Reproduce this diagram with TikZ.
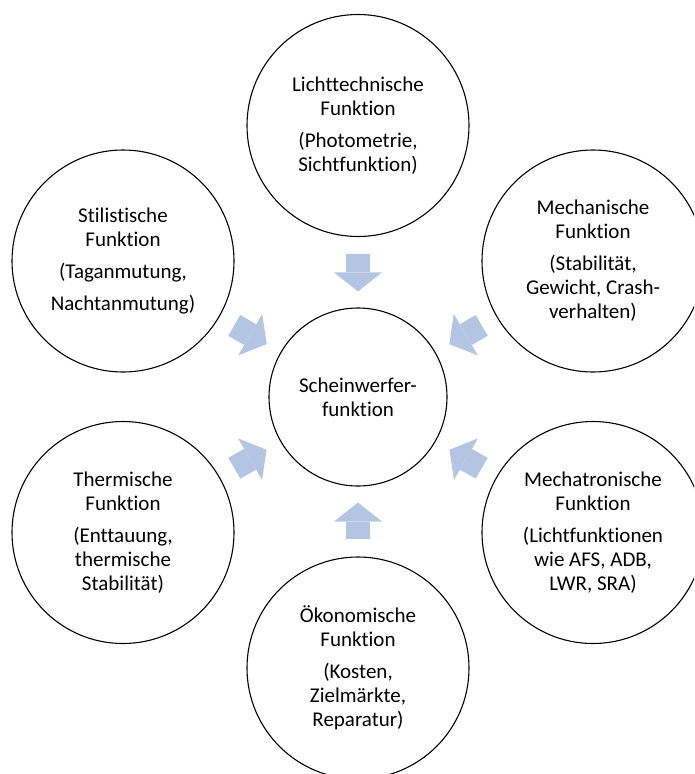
\documentclass[tikz,border=0pt]{standalone}
\usepackage{fontspec}
\setmainfont{Carlito}[Ligatures={NoCommon,NoContextual}]
\usetikzlibrary{arrows.meta}
\definecolor{pfeilblau}{RGB}{180,197,227}
\begin{document}
\begin{tikzpicture}[x=1pt,y=-1pt]
    \tikzset{kreis/.style = {shape=circle,draw,line width=1.1pt,inner sep=0pt,minimum size=222pt,align=center,font=\fontsize{21}{24}\selectfont}}
    \tikzset{mitte/.style = {kreis,minimum size=178pt}}
    \tikzset{pfeil/.style = {draw=pfeilblau,line width=24pt,-{Triangle[width=48pt,length=19pt,line width=0pt]},shorten <=17pt,shorten >=16pt}}
    \useasboundingbox (0,0) rectangle (694,774);
    \clip (0,0) rectangle (694,774);
    \node[mitte] (f0) at (358,397) {Scheinwerfer-\\funktion};
    \node[kreis] (f1) at (358,125.5) {Lichttechnische\\Funktion\\[8pt](Photometrie,\\Sichtfunktion)};
    \node[kreis] (f2) at (593,261) {Mechanische\\Funktion\\[8pt](Stabilität,\\Gewicht, Crash-\\verhalten)};
    \node[kreis] (f3) at (593,532.5) {Mechatronische\\Funktion\\[8pt](Lichtfunktionen\\wie AFS, ADB,\\LWR, SRA)};
    \node[kreis] (f4) at (358,668) {Ökonomische\\Funktion\\[8pt](Kosten,\\Zielmärkte,\\Reparatur)};
    \node[kreis] (f5) at (123,532.5) {Thermische\\Funktion\\[8pt](Enttauung,\\thermische\\Stabilität)};
    \node[kreis] (f6) at (123,261) {Stilistische\\Funktion\\[8pt](Taganmutung,\\[8pt]Nachtanmutung)};
    \draw[pfeil] (f1) to (f0);
    \draw[pfeil] (f2) to (f0);
    \draw[pfeil] (f3) to (f0);
    \draw[pfeil] (f4) to (f0);
    \draw[pfeil] (f5) to (f0);
    \draw[pfeil] (f6) to (f0);
\end{tikzpicture}
\end{document}
